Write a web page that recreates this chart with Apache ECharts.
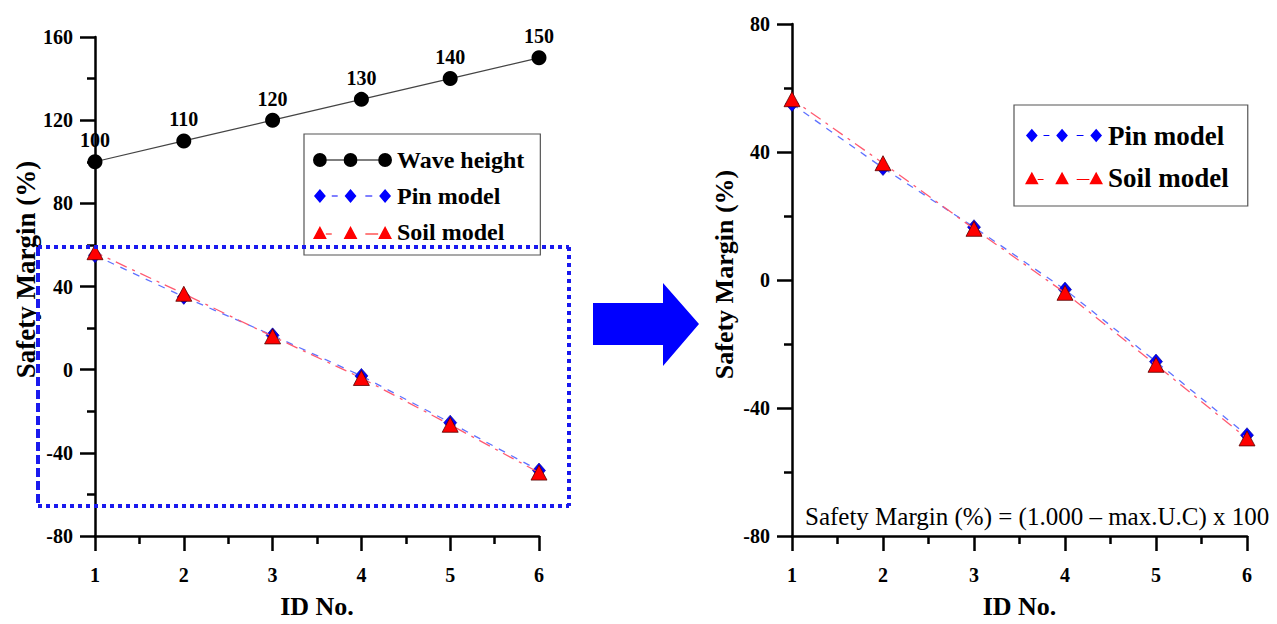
<!DOCTYPE html>
<html>
<head>
<meta charset="utf-8">
<script src="https://cdn.jsdelivr.net/npm/echarts@6/dist/echarts.min.js"></script>
<style>html,body{margin:0;padding:0;background:#fff}#c{width:1277px;height:624px}</style>
</head>
<body>
<div id="c"></div>
<script>
const ids = [1, 2, 3, 4, 5, 6];
const waveHeight = [100, 110, 120, 130, 140, 150];
const pinModel = [55, 35, 16.5, -3, -25.5, -48.5];
const soilModel = [56.5, 36.5, 16, -4, -26.5, -49.5];
const formulaText = 'Safety Margin (%) = (1.000 \u2013 max.U.C) x 100';
const yTitle = 'Safety Margin (%)';
const xTitle = 'ID No.';

const F = '"Liberation Serif", "Times New Roman", serif';
const pair = arr => ids.map((x, i) => [x, arr[i]]);

const iconWave = 'path://M0,7a7,7 0 1,0 14,0a7,7 0 1,0 -14,0Z M14,6.4H31V7.6H14Z M31,7a7,7 0 1,0 14,0a7,7 0 1,0 -14,0Z M45,6.4H66V7.6H45Z M66,7a7,7 0 1,0 14,0a7,7 0 1,0 -14,0Z';
const iconPin = 'path://M1,7L7,0L13,7L7,14Z M19,6.5H25V7.5H19Z M32,7L38,0L44,7L38,14Z M53,6.5H60V7.5H53Z M67,7L73,0L79,7L73,14Z M0,0H0.01V0.01H0Z M80,14H79.99V13.99H80Z';
const iconSoil = 'path://M0,14L7,1L14,14Z M13,8.5H19V9.5H13Z M31,14L38,1L45,14Z M53,8.5H66V9.5H53Z M66,14L73,1L80,14Z M0,0H0.01V0.01H0Z M80,0H79.99V0.01H80Z';

function xAx(gi) {
  return {
    type: 'value', gridIndex: gi, min: 1, max: 6, interval: 1,
    name: xTitle, nameLocation: 'middle', nameGap: 57,
    nameTextStyle: {fontFamily: F, fontWeight: 'bold', fontSize: 26, color: '#000'},
    axisLine: {onZero: false, lineStyle: {color: '#000', width: 2.5}},
    axisTick: {length: 15, lineStyle: {color: '#000', width: 2.5}},
    minorTick: {show: true, splitNumber: 2, length: 8, lineStyle: {color: '#000', width: 2.5}},
    axisLabel: {margin: 29, fontFamily: F, fontWeight: 'bold', fontSize: 20, color: '#000'},
    splitLine: {show: false}
  };
}
function yAx(gi, min, max, gap, fs, shift) {
  return {
    type: 'value', gridIndex: gi, min: min, max: max, interval: 40,
    name: yTitle, nameLocation: 'middle', nameGap: gap,
    nameTextStyle: {fontFamily: F, fontWeight: 'bold', fontSize: fs, color: '#000', padding: [0, 0, 0, shift]},
    axisLine: {show: true, onZero: false, lineStyle: {color: '#000', width: 2.5}},
    axisTick: {show: true, length: 15, lineStyle: {color: '#000', width: 2.5}},
    minorTick: {show: true, splitNumber: 2, length: 8, lineStyle: {color: '#000', width: 2.5}},
    axisLabel: {margin: 22, fontFamily: F, fontWeight: 'bold', fontSize: 20, color: '#000'},
    splitLine: {show: false}
  };
}
function pinSeries(gi) {
  return {
    name: 'Pin model', type: 'line', xAxisIndex: gi, yAxisIndex: gi, data: pair(pinModel),
    symbol: 'diamond', symbolSize: [13, 15], clip: false,
    itemStyle: {color: '#0000ff', borderColor: '#00008b', borderWidth: 0.6},
    lineStyle: {color: '#5f72ff', width: 1.3, type: [7, 7]}, z: 3
  };
}
function soilSeries(gi) {
  return {
    name: 'Soil model', type: 'line', xAxisIndex: gi, yAxisIndex: gi, data: pair(soilModel),
    symbol: 'triangle', symbolSize: [16, 15], clip: false,
    itemStyle: {color: '#ff0000', borderColor: '#5a0000', borderWidth: 0.8},
    lineStyle: {color: '#ff5a70', width: 1.3, type: [12, 6, 3, 6], dashOffset: 4}, z: 4
  };
}
function legendData() {
  return [
    {name: 'Pin model', icon: iconPin, itemStyle: {borderWidth: 0}},
    {name: 'Soil model', icon: iconSoil, itemStyle: {borderWidth: 0}}
  ];
}

const chart = echarts.init(document.getElementById('c'), null, {renderer: 'svg'});
chart.setOption({
  animation: false,
  backgroundColor: '#fff',
  grid: [
    {left: 95, top: 37, width: 444, height: 503},
    {left: 792, top: 24, width: 455, height: 515}
  ],
  xAxis: [xAx(0), xAx(1)],
  yAxis: [yAx(0, -80, 160, 54, 27, 34), yAx(1, -80, 80, 55, 26, 11)],
  title: {
    text: formulaText, left: 805, top: 504, padding: 0,
    textStyle: {fontFamily: F, fontWeight: 'normal', fontSize: 25, color: '#000'}
  },
  legend: [
    {
      data: [{name: 'Wave height', icon: iconWave, itemStyle: {borderWidth: 0}}].concat(legendData()),
      orient: 'vertical', left: 304, top: 134, padding: [14, 16, 11, 9],
      itemWidth: 79, itemHeight: 14, itemGap: 12, selectedMode: false,
      borderColor: '#555', borderWidth: 1.2, backgroundColor: '#fff',
      textStyle: {fontFamily: F, fontWeight: 'bold', fontSize: 24, color: '#000'}
    },
    {
      data: legendData(),
      orient: 'vertical', left: 1014, top: 105, padding: [17, 19, 15, 11],
      itemWidth: 78, itemHeight: 14, itemGap: 15, selectedMode: false,
      borderColor: '#555', borderWidth: 1.2, backgroundColor: '#fff',
      textStyle: {fontFamily: F, fontWeight: 'bold', fontSize: 27, color: '#000'}
    }
  ],
  series: [
    {
      name: 'Wave height', type: 'line', xAxisIndex: 0, yAxisIndex: 0, data: pair(waveHeight),
      symbol: 'circle', symbolSize: 15, clip: false,
      itemStyle: {color: '#000'}, lineStyle: {color: '#444', width: 1.2},
      label: {show: true, position: 'top', distance: 4, fontFamily: F, fontWeight: 'bold', fontSize: 20, color: '#000'}
    },
    pinSeries(0), soilSeries(0), pinSeries(1), soilSeries(1)
  ],
  graphic: [
    {type: 'polygon', shape: {points: [[593, 303], [663, 303], [663, 283], [699, 324], [663, 366], [663, 345], [593, 345]]}, style: {fill: '#0000ff'}},
    {type: 'line', shape: {x1: 38, y1: 247, x2: 38, y2: 506}, style: {stroke: '#1a1aee', lineWidth: 4, lineDash: [9, 4]}, z: 10},
    {type: 'line', shape: {x1: 38, y1: 247, x2: 569, y2: 247}, style: {stroke: '#1a1aee', lineWidth: 4, lineDash: [4, 4]}, z: 10},
    {type: 'line', shape: {x1: 569, y1: 247, x2: 569, y2: 506}, style: {stroke: '#1a1aee', lineWidth: 4, lineDash: [4, 4]}, z: 10},
    {type: 'line', shape: {x1: 38, y1: 506, x2: 569, y2: 506}, style: {stroke: '#1a1aee', lineWidth: 4, lineDash: [4, 4]}, z: 10}
  ]
});
</script>
</body>
</html>
